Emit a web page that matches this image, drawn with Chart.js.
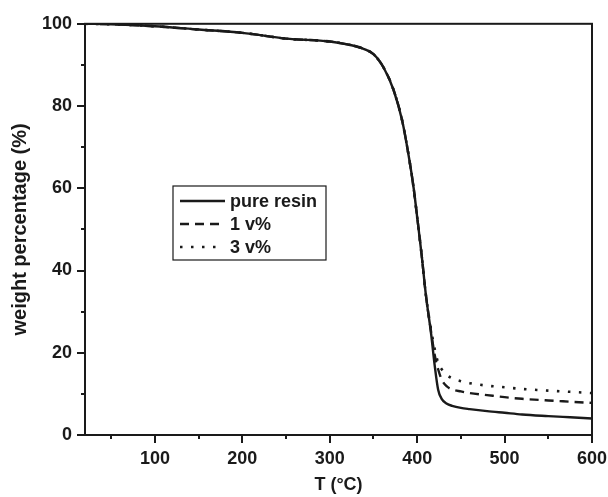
<!DOCTYPE html>
<html>
<head>
<meta charset="utf-8">
<script src="https://cdn.jsdelivr.net/npm/chart.js@4/dist/chart.umd.min.js"></script>
<style>
html,body{margin:0;padding:0;background:#fff;}
#wrap{width:608px;height:497px;}
</style>
</head>
<body>
<div id="wrap"><canvas id="c" width="608" height="497"></canvas></div>
<script>
// ---- data ----
const temperature = [20, 50, 100, 150, 200, 250, 300, 320, 335, 350, 362, 373, 383, 391, 396, 400, 405, 410, 416, 420, 424, 428, 434, 440, 450, 460, 480, 500, 520, 550, 575, 600];
const pureResin  = [100, 99.9, 99.4, 98.6, 97.8, 96.4, 95.7, 95.0, 94.2, 92.6, 89.2, 83.9, 76.3, 67.0, 60, 53, 44, 34, 24.5, 17, 11, 8.8, 7.6, 7.1, 6.6, 6.3, 5.8, 5.4, 5.0, 4.6, 4.3, 4.0];
const oneVol     = [100, 99.9, 99.4, 98.6, 97.8, 96.4, 95.7, 95.0, 94.2, 92.6, 89.2, 83.9, 76.3, 67.0, 60, 53, 44, 34, 25, 19.5, 16, 13.5, 11.8, 11.1, 10.6, 10.2, 9.7, 9.2, 8.8, 8.4, 8.1, 7.8];
const threeVol   = [100, 99.9, 99.4, 98.6, 97.8, 96.4, 95.7, 95.0, 94.2, 92.6, 89.2, 83.9, 76.3, 67.0, 60, 53, 44, 34, 25.5, 21, 17.5, 16, 14.6, 13.8, 13.1, 12.6, 12.0, 11.6, 11.2, 10.8, 10.5, 10.2];
const seriesLabels = ['pure resin', '1 v%', '3 v%'];
const xTicks = [100, 200, 300, 400, 500, 600];
const xMinorTicks = [50, 150, 250, 350, 450, 550];
const yTicks = [0, 20, 40, 60, 80, 100];
const yMinorTicks = [10, 30, 50, 70, 90];

const INK = '#1a1a1a';
const FONT = 'Liberation Sans, Arial, Helvetica, sans-serif';

function pts(ys){ return temperature.map((t,i)=>({x:t, y:ys[i]})); }

const framePlugin = {
  id: 'frame',
  afterDraw(chart){
    const {ctx, chartArea:a, scales:{x, y}} = chart;
    ctx.save();
    ctx.strokeStyle = INK;
    ctx.lineWidth = 2;
    ctx.strokeRect(a.left, a.top, a.right - a.left, a.bottom - a.top);
    ctx.beginPath();
    xTicks.forEach(v=>{ const px = Math.round(x.getPixelForValue(v)); ctx.moveTo(px, a.bottom); ctx.lineTo(px, a.bottom + 8); });
    xMinorTicks.forEach(v=>{ const px = Math.round(x.getPixelForValue(v)); ctx.moveTo(px, a.bottom); ctx.lineTo(px, a.bottom + 4); });
    yTicks.forEach(v=>{ const py = Math.round(y.getPixelForValue(v)); ctx.moveTo(a.left, py); ctx.lineTo(a.left - 8, py); });
    yMinorTicks.forEach(v=>{ const py = Math.round(y.getPixelForValue(v)); ctx.moveTo(a.left, py); ctx.lineTo(a.left - 4, py); });
    ctx.stroke();
    ctx.restore();
  }
};

const legendBoxPlugin = {
  id: 'legendBox',
  afterDraw(chart, args, opts){
    const ctx = chart.ctx;
    ctx.save();
    ctx.strokeStyle = INK;
    ctx.lineWidth = 1.2;
    ctx.fillStyle = '#fff';
    ctx.fillRect(opts.left, opts.top, opts.width, opts.height);
    ctx.strokeRect(opts.left, opts.top, opts.width, opts.height);
    ctx.font = 'bold 18px ' + FONT;
    ctx.textBaseline = 'middle';
    chart.data.datasets.forEach((ds, i)=>{
      const yy = opts.top + opts.firstRow + i * opts.rowGap;
      ctx.beginPath();
      ctx.setLineDash(ds.borderDash || []);
      ctx.lineWidth = ds.borderWidth;
      ctx.strokeStyle = ds.borderColor;
      ctx.moveTo(opts.left + 7, yy);
      ctx.lineTo(opts.left + (ds.legendLen || 52), yy);
      ctx.stroke();
      ctx.setLineDash([]);
      ctx.fillStyle = INK;
      ctx.fillText(ds.label, opts.left + 57, yy + 1);
    });
    ctx.restore();
  }
};

new Chart(document.getElementById('c'), {
  type: 'scatter',
  data: {
    datasets: [
      { label: seriesLabels[0], data: pts(pureResin), showLine: true, borderColor: INK, borderWidth: 2.4, pointRadius: 0, cubicInterpolationMode: 'monotone' },
      { label: seriesLabels[1], data: pts(oneVol), showLine: true, borderColor: INK, borderWidth: 2.4, borderDash: [9, 6], pointRadius: 0, cubicInterpolationMode: 'monotone' },
      { label: seriesLabels[2], data: pts(threeVol), showLine: true, borderColor: INK, borderWidth: 2.6, borderDash: [2.5, 8.5], pointRadius: 0, cubicInterpolationMode: 'monotone', legendLen: 44 }
    ]
  },
  options: {
    responsive: false,
    animation: false,
    layout: { padding: { top: 23, right: 0, left: 0, bottom: 0 } },
    plugins: {
      legend: { display: false },
      tooltip: { enabled: false },
      legendBox: { left: 173, top: 186, width: 153, height: 74, firstRow: 15, rowGap: 23 }
    },
    scales: {
      x: {
        type: 'linear', min: 20, max: 600,
        grid: { display: false, drawTicks: false },
        border: { display: false },
        afterBuildTicks: s => { s.ticks = xTicks.map(v=>({value:v})); },
        afterFit: s => { s.height = 62; s.paddingRight = 16; s.paddingLeft = 0; },
        ticks: { color: INK, font: { family: FONT, size: 18, weight: 'bold' }, padding: 13, maxRotation: 0 },
        title: { display: true, text: 'T (°C)', color: INK, font: { family: FONT, size: 18, weight: 'bold' }, padding: { top: 0, bottom: 1 } }
      },
      y: {
        type: 'linear', min: 0, max: 100,
        grid: { display: false, drawTicks: false },
        border: { display: false },
        afterBuildTicks: s => { s.ticks = yTicks.map(v=>({value:v})); },
        afterFit: s => { s.width = 85; },
        ticks: { color: INK, font: { family: FONT, size: 18, weight: 'bold' }, padding: 13 },
        title: { display: true, text: 'weight percentage (%)', color: INK, font: { family: FONT, size: 20, weight: 'bold' }, padding: { top: 8, bottom: 0 } }
      }
    }
  },
  plugins: [framePlugin, legendBoxPlugin]
});
</script>
</body>
</html>
